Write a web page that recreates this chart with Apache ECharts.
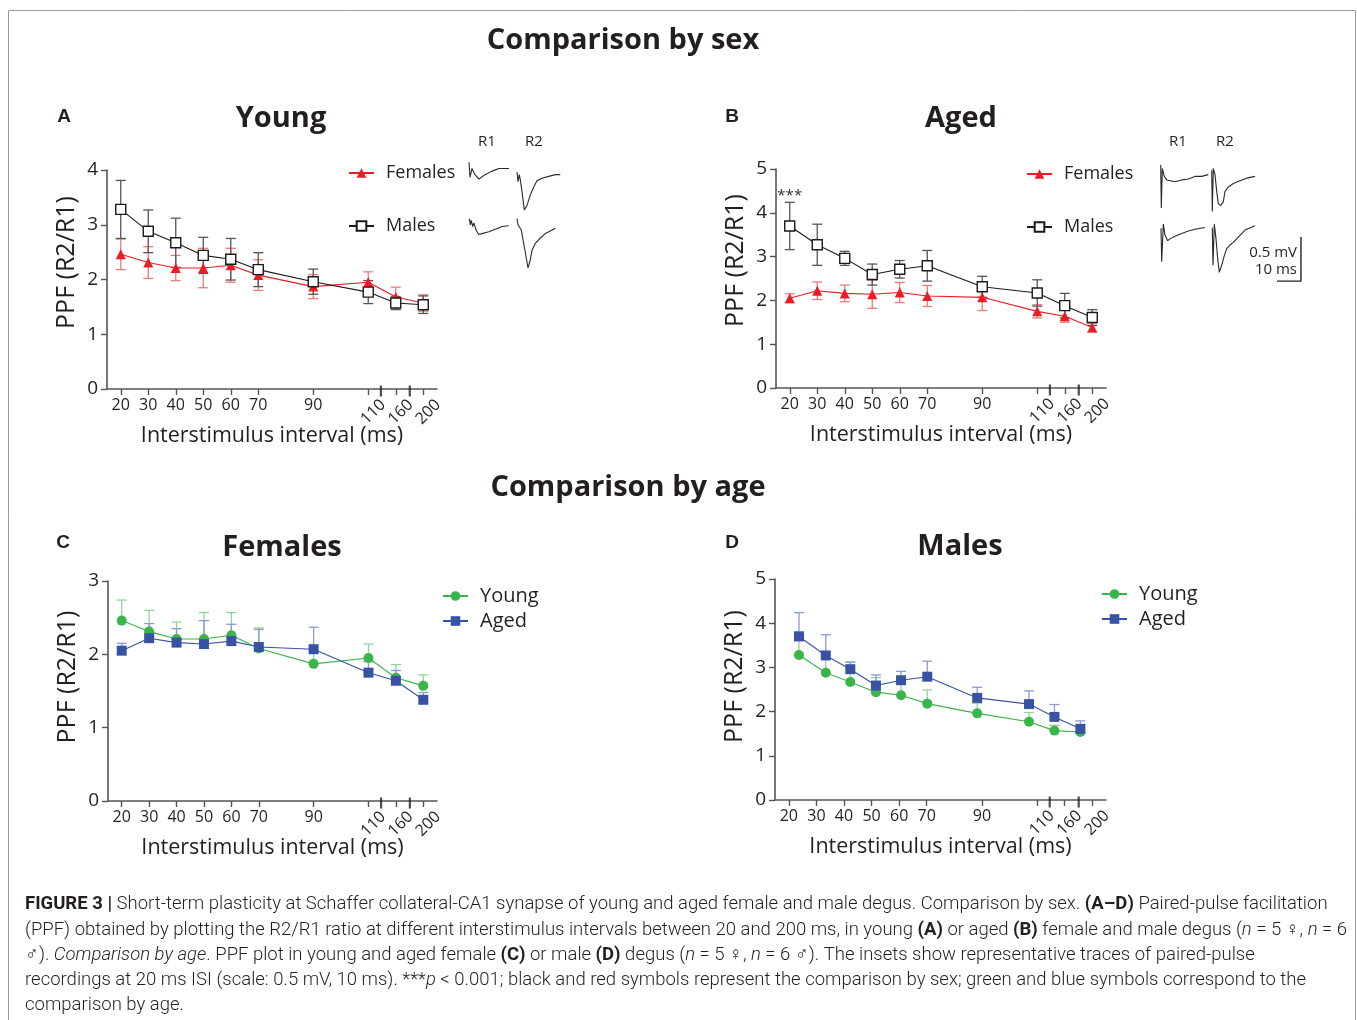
<!DOCTYPE html>
<html>
<head>
<meta charset="utf-8">
<script src="https://cdn.jsdelivr.net/npm/echarts@6/dist/echarts.min.js"></script>
<style>
html,body{margin:0;padding:0;background:#fff;}
#main{width:1357px;height:1020px;}
</style>
</head>
<body>
<div id="main"></div>
<script>
// ---------- DATA ----------
const isiLabels = ['20','30','40','50','60','70','90','110','160','200'];
const isiPos    = [20,30,40,50,60,70,90,110,120,130];          // broken-axis coordinate of each interval
const isiPosD   = [23.7,33.4,42.3,51.6,60.7,70.2,88.3,107.1,116.3,125.7]; // symbols in panel D as printed
const axisBreaks = [114.6,125.1];

const youngF_mean = [2.46,2.31,2.21,2.21,2.26,2.08,1.87,1.95,1.68,1.57];
const youngF_sem  = [0.28,0.29,0.23,0.36,0.31,0.28,0.22,0.19,0.18,0.15];
const youngM_mean = [3.28,2.88,2.67,2.44,2.37,2.18,1.96,1.77,1.57,1.54];
const youngM_sem  = [0.53,0.39,0.45,0.33,0.38,0.31,0.23,0.21,0.12,0.16];
const agedF_mean  = [2.05,2.22,2.16,2.14,2.18,2.10,2.07,1.75,1.64,1.38];
const agedF_sem   = [0.10,0.20,0.19,0.32,0.23,0.24,0.30,0.15,0.14,0.10];
const agedM_mean  = [3.70,3.27,2.96,2.59,2.71,2.79,2.31,2.17,1.88,1.61];
const agedM_sem   = [0.54,0.47,0.16,0.24,0.20,0.35,0.24,0.30,0.28,0.18];

const yMaxA = 4, yMaxB = 5, yMaxC = 3, yMaxD = 5;

// representative traces [ms, mV]
const trYoungFemR1 = [[3.75,-0.14],[4.17,-0.31],[5.0,-0.21],[6.25,-0.28],[7.92,-0.33],[10.42,-0.28],[13.33,-0.24],[16.25,-0.21],[20.42,-0.21]];
const trYoungFemR2 = [[23.75,-0.25],[24.17,-0.36],[24.71,-0.28],[25.13,-0.34],[25.83,-0.47],[26.79,-0.68],[27.92,-0.63],[29.29,-0.51],[30.71,-0.42],[32.08,-0.35],[34.17,-0.32],[36.96,-0.30],[39.71,-0.28],[41.79,-0.28]];
const trYoungMalR1 = [[3.88,-0.78],[4.29,-0.85],[4.71,-0.80],[5.29,-0.87],[5.83,-0.83],[6.67,-0.91],[7.79,-0.96],[9.17,-0.95],[11.96,-0.93],[14.71,-0.90],[17.5,-0.87],[20.29,-0.86]];
const trYoungMalR2 = [[23.75,-0.78],[24.17,-0.85],[24.71,-0.83],[25.54,-0.91],[26.54,-1.06],[27.5,-1.21],[28.33,-1.34],[29.29,-1.25],[30.0,-1.14],[31.38,-1.06],[33.46,-1.00],[35.54,-0.95],[37.63,-0.92],[39.71,-0.89]];
const trAgedFemR1 = [[4.46,-0.17],[4.71,-0.66],[5.13,-0.21],[5.96,-0.30],[6.96,-0.34],[10.42,-0.36],[13.21,-0.34],[15.96,-0.33],[18.75,-0.30],[21.54,-0.30],[24.29,-0.28]];
const trAgedFemR2 = [[25.71,-0.23],[25.96,-0.70],[26.38,-0.21],[27.08,-0.28],[27.79,-0.47],[28.46,-0.61],[29.46,-0.63],[30.54,-0.59],[31.25,-0.47],[32.63,-0.42],[34.71,-0.38],[37.5,-0.35],[40.29,-0.32],[43.75,-0.30]];
const trAgedMalR1 = [[4.58,-0.89],[4.88,-1.27],[5.54,-0.84],[6.25,-0.97],[7.38,-1.03],[8.33,-1.01],[10.42,-0.98],[13.21,-0.95],[15.96,-0.92],[18.75,-0.90],[22.92,-0.88]];
const trAgedMalR2 = [[25.96,-0.88],[26.25,-1.31],[26.79,-0.84],[27.5,-1.01],[28.21,-1.24],[28.88,-1.39],[29.88,-1.31],[30.96,-1.20],[31.96,-1.12],[33.33,-1.08],[34.71,-1.05],[36.79,-0.99],[39.58,-0.91],[43.75,-0.86]];
const scaleBar = [[52.9,-1.49],[62.9,-1.49],[62.9,-0.99]]; // 10 ms, 0.5 mV

// ---------- STYLE ----------
const FONT = '"Open Sans", "Noto Sans", sans-serif';
const TXT = '#231f20';
const AX = '#555';
const RED = '#ed1c24', RED_E = '#f07a7a';
const BLK = '#1a1a1a', BLK_E = '#555';
const GRN = '#39b54a', GRN_E = '#8fd59a';
const BLU = '#3953a4', BLU_E = '#8b9bd3';

const grids = [
  {left:107, top:170, width:330, height:219},
  {left:776, top:169, width:330, height:219},
  {left:108, top:581, width:329, height:220},
  {left:775, top:579, width:331, height:221},
  {left:460, top:150, width:120, height:140.8},
  {left:1150, top:150, width:156, height:140.8}
];

function lab(v){ const i = isiPos.indexOf(v); return i >= 0 ? isiLabels[i] : ''; }
function labRot(v){ const s = lab(v); return s ? '{r|' + s + '}' : ''; }

const xAxes = [], yAxes = [];
const yMaxes = [yMaxA, yMaxB, yMaxC, yMaxD];
const yShift = [34, 36, 28, 26];
for (let g = 0; g < 4; g++) {
  xAxes.push({
    type:'value', gridIndex:g, min:15, max:135, position:'bottom',
    axisLine:{show:true, onZero:false, lineStyle:{color:AX, width:1.6}},
    axisTick:{show:true, length:6, lineStyle:{color:AX, width:1.4}, customValues:isiPos},
    splitLine:{show:false},
    axisLabel:{customValues:isiPos.slice(0,7), formatter:lab, color:TXT, fontSize:16, fontFamily:FONT, margin:8},
    name:'Interstimulus interval (ms)', nameLocation:'middle', nameGap:36,
    nameTextStyle:{color:TXT, fontSize:21.5, fontFamily:FONT}
  });
  xAxes.push({
    type:'value', gridIndex:g, min:15, max:135, position:'bottom',
    axisLine:{show:false}, axisTick:{show:false}, splitLine:{show:false},
    axisLabel:{customValues:isiPos.slice(7), formatter:labRot, rotate:45, align:'center', verticalAlign:'middle',
      color:TXT, fontSize:16, fontFamily:FONT, margin:18,
      rich:{r:{color:TXT, fontSize:16, fontFamily:FONT, padding:[14,0,0,0]}}}
  });
  yAxes.push({
    type:'value', gridIndex:g, min:0, max:yMaxes[g], interval:1,
    axisLine:{show:true, lineStyle:{color:AX, width:1.6}},
    axisTick:{show:true, length:6, lineStyle:{color:AX, width:1.4}},
    splitLine:{show:false},
    axisLabel:{color:TXT, fontSize:19, fontFamily:FONT, margin:9},
    name:'PPF (R2/R1)', nameLocation:'middle', nameGap:28,
    nameTextStyle:{color:TXT, fontSize:25, fontFamily:FONT, padding:[0,0,0,yShift[g]]}
  });
}
xAxes.push({type:'value', gridIndex:4, min:0, max:50, show:false});
yAxes.push({type:'value', gridIndex:4, min:-1.6, max:0, show:false});
xAxes.push({type:'value', gridIndex:5, min:0, max:65, show:false});
yAxes.push({type:'value', gridIndex:5, min:-1.6, max:0, show:false});

function lineSeries(name, g, xs, means, color, symbol, fill, size, extra){
  return Object.assign({
    type:'line', name, xAxisIndex:2*g, yAxisIndex:g,
    data: xs.map((x,i)=>[x, means[i]]),
    symbol, symbolSize:size, showSymbol:true,
    lineStyle:{color, width:1.1},
    itemStyle:{color:fill, borderColor:color, borderWidth: fill === '#fff' ? 1.4 : 0},
    z:5, clip:false
  }, extra || {});
}
function errSeries(name, g, xs, means, sems, color, both){
  return {
    type:'custom', name, xAxisIndex:2*g, yAxisIndex:g, silent:true, z:3,
    data: xs.map((x,i)=>[x, means[i], sems[i]]),
    encode:{x:0, y:1},
    renderItem:function(params, api){
      const x = api.value(0), m = api.value(1), s = api.value(2);
      const t = api.coord([x, m + s]);
      const b = api.coord([x, both ? m - s : m]);
      const w = 5, st = {stroke:color, lineWidth:1.3};
      const ch = [
        {type:'line', shape:{x1:t[0], y1:t[1], x2:b[0], y2:b[1]}, style:st},
        {type:'line', shape:{x1:t[0]-w, y1:t[1], x2:t[0]+w, y2:t[1]}, style:st}
      ];
      if (both) ch.push({type:'line', shape:{x1:b[0]-w, y1:b[1], x2:b[0]+w, y2:b[1]}, style:st});
      return {type:'group', children:ch};
    }
  };
}
function breakSeries(g){
  return {type:'scatter', name:'break'+g, xAxisIndex:2*g, yAxisIndex:g, silent:true, clip:false, z:6,
    data: axisBreaks.map(b=>[b,0]), symbol:'rect', symbolSize:[2.2,11], symbolOffset:[0,2],
    itemStyle:{color:'#222'}};
}
function traceSeries(name, g, pts){
  return {type:'line', name, xAxisIndex:2*4 + (g-4), yAxisIndex:g, data:pts, showSymbol:false, symbol:'none',
    silent:true, lineStyle:{color:'#2a2a2a', width:1.1}, z:2};
}

const series = [
  // A
  errSeries('eA_F',0,isiPos,youngF_mean,youngF_sem,RED_E,true),
  errSeries('eA_M',0,isiPos,youngM_mean,youngM_sem,BLK_E,true),
  lineSeries('Females',0,isiPos,youngF_mean,RED,'triangle',RED,10),
  lineSeries('Males',0,isiPos,youngM_mean,BLK,'rect','#fff',10),
  breakSeries(0),
  // B
  errSeries('eB_F',1,isiPos,agedF_mean,agedF_sem,RED_E,true),
  errSeries('eB_M',1,isiPos,agedM_mean,agedM_sem,BLK_E,true),
  lineSeries('Females',1,isiPos,agedF_mean,RED,'triangle',RED,10),
  lineSeries('Males',1,isiPos,agedM_mean,BLK,'rect','#fff',10,{
    markPoint:{symbol:'circle', symbolSize:1, itemStyle:{color:'rgba(0,0,0,0)'},
      label:{show:true, formatter:'***', color:'#333', fontSize:15, fontFamily:FONT, position:'inside'},
      data:[{coord:[isiPos[0], agedM_mean[0]+agedM_sem[0]+0.16]}]}
  }),
  breakSeries(1),
  // C
  errSeries('eC_Y',2,isiPos,youngF_mean,youngF_sem,GRN_E,false),
  errSeries('eC_A',2,isiPos,agedF_mean,agedF_sem,BLU_E,false),
  lineSeries('Young',2,isiPos,youngF_mean,GRN,'circle',GRN,10),
  lineSeries('Aged',2,isiPos,agedF_mean,BLU,'rect',BLU,10),
  breakSeries(2),
  // D
  errSeries('eD_Y',3,isiPosD,youngM_mean,youngM_sem,GRN_E,false),
  errSeries('eD_A',3,isiPosD,agedM_mean,agedM_sem,BLU_E,false),
  lineSeries('Young',3,isiPosD,youngM_mean,GRN,'circle',GRN,10),
  lineSeries('Aged',3,isiPosD,agedM_mean,BLU,'rect',BLU,10),
  breakSeries(3),
  // insets
  traceSeries('t1',4,trYoungFemR1), traceSeries('t2',4,trYoungFemR2),
  traceSeries('t3',4,trYoungMalR1), traceSeries('t4',4,trYoungMalR2),
  traceSeries('t5',5,trAgedFemR1), traceSeries('t6',5,trAgedFemR2),
  traceSeries('t7',5,trAgedMalR1), traceSeries('t8',5,trAgedMalR2),
  {type:'line', name:'scale', xAxisIndex:9, yAxisIndex:5, data:scaleBar, showSymbol:false, symbol:'none',
   silent:true, lineStyle:{color:'#222', width:1.4}}
];

function legend(left, top, names, fs, gap){
  return {left, top, orient:'vertical', padding:0, itemGap:gap, itemWidth:25, itemHeight:12,
    data:names, selectedMode:false,
    textStyle:{color:TXT, fontSize:fs, fontFamily:FONT, padding:[0,0,0,7]}};
}

function txt(x, y, text, fs, weight, align, family, color){
  return {type:'text', x, y, silent:true, style:{text, fontSize:fs, fontWeight:weight||'normal',
    fontFamily:family||FONT, fill:color||TXT, textAlign:align||'center', textVerticalAlign:'middle'}};
}

const capBase = {fontSize:18.5, fontFamily:'Roboto, "Liberation Sans", sans-serif', fontWeight:300, lineHeight:25.3, fill:'#231f20'};
const caption = [
  '{b|FIGURE 3 |} Short-term plasticity at Schaffer collateral-CA1 synapse of young and aged female and male degus. Comparison by sex. {b|(A–D)} Paired-pulse facilitation',
  '(PPF) obtained by plotting the R2/R1 ratio at different interstimulus intervals between 20 and 200 ms, in young {b|(A)} or aged {b|(B)} female and male degus ({i|n} = 5 ♀, {i|n} = 6',
  '♂). {i|Comparison by age}. PPF plot in young and aged female {b|(C)} or male {b|(D)} degus ({i|n} = 5 ♀, {i|n} = 6 ♂). The insets show representative traces of paired-pulse',
  'recordings at 20 ms ISI (scale: 0.5 mV, 10 ms). ***{i|p} < 0.001; black and red symbols represent the comparison by sex; green and blue symbols correspond to the',
  'comparison by age.'
].join('\n');

const graphics = [
  {type:'rect', shape:{x:8.5, y:10.5, width:1347, height:1030}, style:{fill:'none', stroke:'#9a9a9a', lineWidth:1}, silent:true},
  txt(623, 41, 'Comparison by sex', 29, 'bold'),
  txt(628, 488, 'Comparison by age', 29, 'bold'),
  txt(281, 119, 'Young', 29, 'bold'),
  txt(961, 119, 'Aged', 29, 'bold'),
  txt(282, 548, 'Females', 29, 'bold'),
  txt(960, 547, 'Males', 29, 'bold'),
  txt(64, 117, 'A', 19, 'bold', 'center', '"Liberation Sans", Arial, sans-serif'),
  txt(732, 117, 'B', 19, 'bold', 'center', '"Liberation Sans", Arial, sans-serif'),
  txt(63, 543, 'C', 19, 'bold', 'center', '"Liberation Sans", Arial, sans-serif'),
  txt(732, 543, 'D', 19, 'bold', 'center', '"Liberation Sans", Arial, sans-serif'),
  txt(487, 142, 'R1', 15), txt(534, 142, 'R2', 15),
  txt(1178, 142, 'R1', 15), txt(1225, 142, 'R2', 15),
  txt(1297, 253, '0.5 mV', 15, 'normal', 'right'),
  txt(1297, 270, '10 ms', 15, 'normal', 'right'),
  {type:'text', x:25, y:892, silent:true, style:Object.assign({text:caption, textVerticalAlign:'top',
    rich:{
      b:Object.assign({}, capBase, {fontWeight:'bold'}),
      i:Object.assign({}, capBase, {fontStyle:'italic'})
    }}, capBase)}
];

const chart = echarts.init(document.getElementById('main'), null, {renderer:'canvas'});
chart.setOption({
  animation:false,
  backgroundColor:'#fff',
  grid:grids,
  xAxis:xAxes,
  yAxis:yAxes,
  legend:[
    legend(348, 164, ['Females','Males'], 18, 35),
    legend(1026, 165, ['Females','Males'], 18, 35),
    legend(442, 586, ['Young','Aged'], 20, 5),
    legend(1101, 584, ['Young','Aged'], 20, 5)
  ],
  series,
  graphic:graphics
});
</script>
</body>
</html>
